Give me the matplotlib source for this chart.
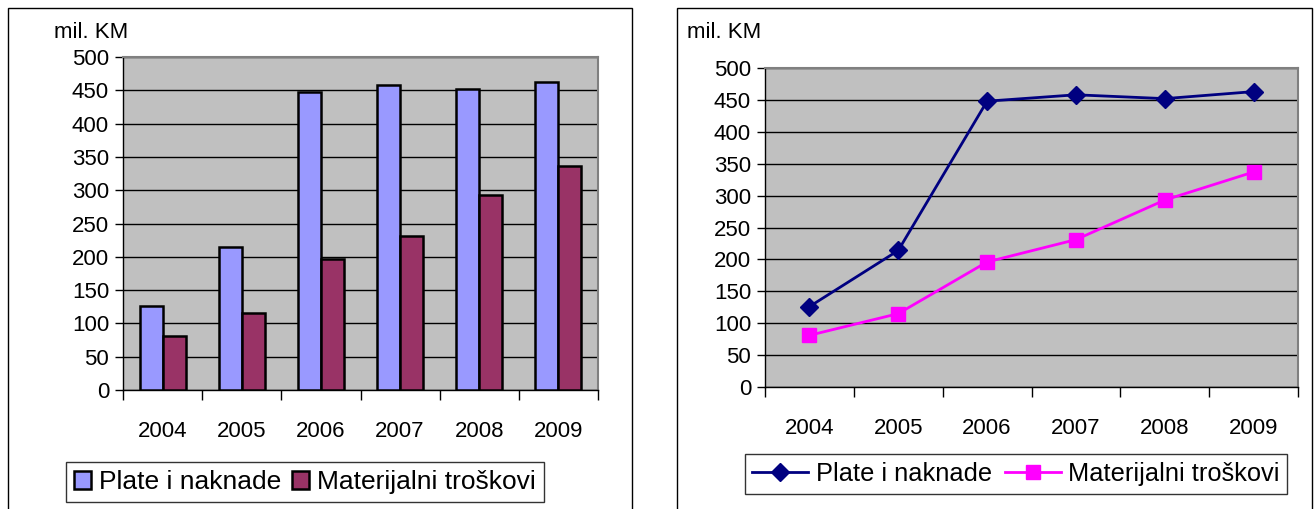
import matplotlib
matplotlib.use("Agg")
import matplotlib.pyplot as plt
import numpy as np
from matplotlib.patches import Rectangle
from matplotlib.ticker import FixedLocator

years = ["2004", "2005", "2006", "2007", "2008", "2009"]
plate = [126, 214, 448, 458, 452, 463]
materijalni = [81, 115, 196, 231, 293, 337]
series_names = ["Plate i naknade", "Materijalni troškovi"]
unit_label = "mil. KM"
yticks = [0, 50, 100, 150, 200, 250, 300, 350, 400, 450, 500]

plt.rcParams['font.family'] = ['Liberation Sans', 'DejaVu Sans']

W, H = 1316, 509
fig = plt.figure(figsize=(W / 100, H / 100), dpi=100)
fig.patch.set_facecolor('white')

def fx(px): return px / W
def fy(py): return 1 - py / H

# outer chart boxes
for x0, x1 in [(8, 632), (677, 1312)]:
    fig.patches.append(Rectangle((fx(x0), fy(520)), fx(x1) - fx(x0), fy(8) - fy(520),
                                 transform=fig.transFigure, fill=False,
                                 edgecolor='black', linewidth=1.0))

TICK_FS = 16

def style_axes(ax):
    n = len(years)
    ax.set_facecolor('#C0C0C0')
    ax.set_xlim(-0.5, n - 0.5)
    ax.set_ylim(0, 500)
    ax.yaxis.set_major_locator(FixedLocator(yticks))
    ax.set_yticklabels([str(v) for v in yticks], fontsize=TICK_FS)
    ax.grid(axis='y', color='black', linewidth=1.0)
    ax.set_axisbelow(True)
    ax.set_xticks(np.arange(n))
    ax.set_xticklabels(years, fontsize=TICK_FS)
    ax.set_xticks(np.arange(n + 1) - 0.5, minor=True)
    ax.tick_params(axis='x', which='major', length=0, pad=22)
    ax.tick_params(axis='x', which='minor', length=7, width=1.0, direction='out')
    ax.tick_params(axis='y', length=6, width=1.0, direction='out', pad=4)
    for s in ['top', 'right']:
        ax.spines[s].set_color('#808080')
        ax.spines[s].set_linewidth(1.5)
    for s in ['left', 'bottom']:
        ax.spines[s].set_color('black')
        ax.spines[s].set_linewidth(1.0)

# Left: bar chart
ax1 = fig.add_axes([fx(123), fy(390), fx(598) - fx(123), fy(57) - fy(390)])
x = np.arange(len(years))
bw = 0.29
b1 = ax1.bar(x - bw / 2, plate, bw, color='#9999FF', edgecolor='black', linewidth=1.8,
             label=series_names[0], zorder=3)
b2 = ax1.bar(x + bw / 2, materijalni, bw, color='#993366', edgecolor='black', linewidth=1.8,
             label=series_names[1], zorder=3)
style_axes(ax1)
fig.text(fx(54), fy(32), unit_label, fontsize=TICK_FS, ha='left', va='center')
leg1 = fig.legend(handles=[b1, b2], labels=series_names, loc='center',
                  bbox_to_anchor=(fx(305), fy(482)), ncol=2, fontsize=19,
                  frameon=True, fancybox=False, edgecolor='black',
                  handlelength=0.65, handleheight=0.65, handletextpad=0.3,
                  columnspacing=0.4, borderpad=0.3, borderaxespad=0)
leg1.get_frame().set_linewidth(1.0)

# Right: line chart
ax2 = fig.add_axes([fx(765), fy(387), fx(1298) - fx(765), fy(68) - fy(387)])
l1, = ax2.plot(x, plate, color='#000080', linewidth=2, marker='D', markersize=9,
               markerfacecolor='#000080', markeredgecolor='#000080', label=series_names[0],
               zorder=3, clip_on=False)
l2, = ax2.plot(x, materijalni, color='#FF00FF', linewidth=2, marker='s', markersize=10.5,
               markerfacecolor='#FF00FF', markeredgecolor='#FF00FF', label=series_names[1],
               zorder=3, clip_on=False)
style_axes(ax2)
fig.text(fx(687), fy(33), unit_label, fontsize=TICK_FS, ha='left', va='center')
leg2 = fig.legend(handles=[l1, l2], labels=series_names, loc='center',
                  bbox_to_anchor=(fx(1016), fy(474)), ncol=2, fontsize=18.3,
                  frameon=True, fancybox=False, edgecolor='black',
                  handlelength=2.2, handletextpad=0.3,
                  columnspacing=0.5, borderpad=0.3, borderaxespad=0)
leg2.get_frame().set_linewidth(1.0)

fig.savefig('out.png', dpi=100, facecolor='white')
